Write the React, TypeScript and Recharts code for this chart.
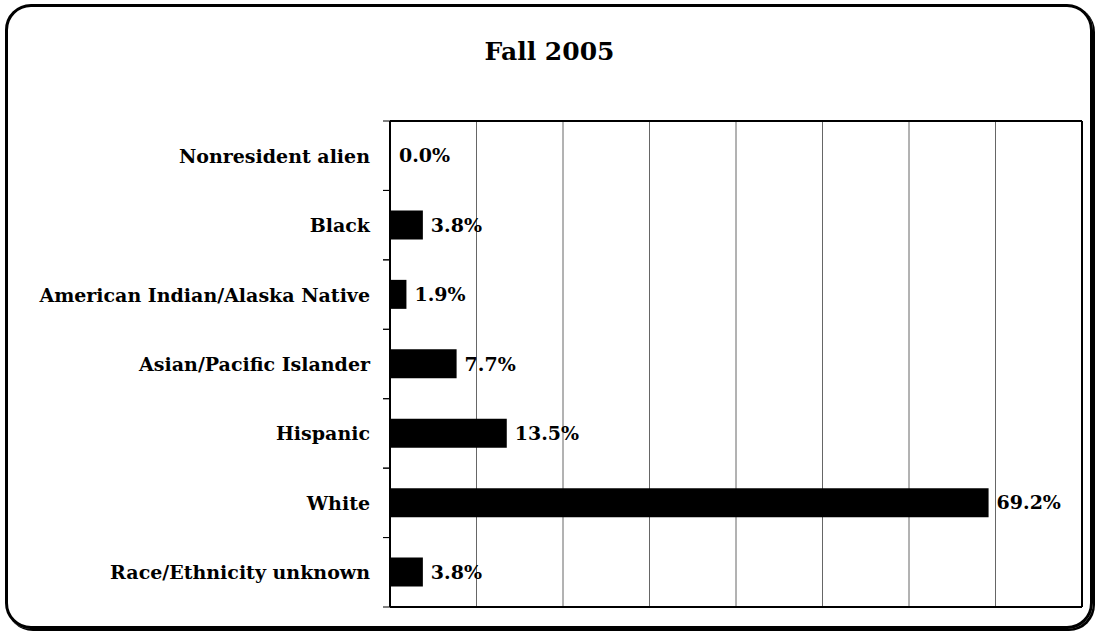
import { Bar, BarChart, CartesianGrid, LabelList, XAxis, YAxis } from "recharts";

const categories = [
  "Nonresident alien",
  "Black",
  "American Indian/Alaska Native",
  "Asian/Pacific Islander",
  "Hispanic",
  "White",
  "Race/Ethnicity unknown",
];
const shares = [0.0, 3.8, 1.9, 7.7, 13.5, 69.2, 3.8];
const gridTicks = [0, 10, 20, 30, 40, 50, 60, 70, 80];

const FONT = "'DejaVu Serif', serif";
const W = 1099;
const H = 631;
const M = { top: 121, right: 17, bottom: 24, left: 0 };
const BAND = (H - M.top - M.bottom) / categories.length;

const data = categories.map((name, i) => ({ name, value: shares[i] }));

// category label plus the little tick marks at the band edges
function CatTick({ y, payload }: any) {
  const ax = 390;
  return (
    <g>
      <line x1={ax - 7} x2={ax} y1={y - BAND / 2} y2={y - BAND / 2} stroke="#000" />
      <line x1={ax - 7} x2={ax} y1={y + BAND / 2} y2={y + BAND / 2} stroke="#000" />
      <text x={ax - 20} y={y} dy={7} textAnchor="end" fontFamily={FONT} fontWeight={700} fontSize={19} fill="#000">
        {payload.value}
      </text>
    </g>
  );
}

export default function App() {
  return (
    <div style={{ position: "absolute", left: 0, top: 0, width: W, height: H, background: "#fff" }}>
      <div
        style={{
          position: "absolute",
          left: 5,
          top: 4,
          width: 1082,
          height: 619,
          border: "3px solid #000",
          borderRadius: 26,
          boxShadow: "2px 2px 0 #000",
        }}
      />
      <div
        style={{
          position: "absolute",
          top: 37,
          width: W,
          textAlign: "center",
          fontFamily: FONT,
          fontWeight: 700,
          fontSize: 25,
        }}
      >
        Fall 2005
      </div>
      <div style={{ position: "absolute", left: 0, top: 0 }}>
        <BarChart width={W} height={H} data={data} layout="vertical" margin={M} barSize={29}>
          <CartesianGrid horizontal={false} vertical stroke="#666" />
          {/* black frame round the plot */}
          <CartesianGrid
            stroke="#000"
            strokeWidth={2}
            horizontalCoordinatesGenerator={({ offset }: any) => [offset.top, offset.top + offset.height]}
            verticalCoordinatesGenerator={({ offset }: any) => [offset.left, offset.left + offset.width]}
          />
          <XAxis type="number" domain={[0, 80]} ticks={gridTicks} hide />
          <YAxis
            type="category"
            dataKey="name"
            width={390}
            tickLine={false}
            axisLine={{ stroke: "#000", strokeWidth: 2 }}
            tick={<CatTick />}
            interval={0}
          />
          <Bar dataKey="value" fill="#000" minPointSize={1} isAnimationActive={false}>
            <LabelList
              dataKey="value"
              position="right"
              offset={8}
              formatter={(v: any) => `${Number(v).toFixed(1)}%`}
              style={{ fontFamily: FONT, fontWeight: 700, fontSize: 19, fill: "#000" }}
            />
          </Bar>
        </BarChart>
      </div>
    </div>
  );
}
